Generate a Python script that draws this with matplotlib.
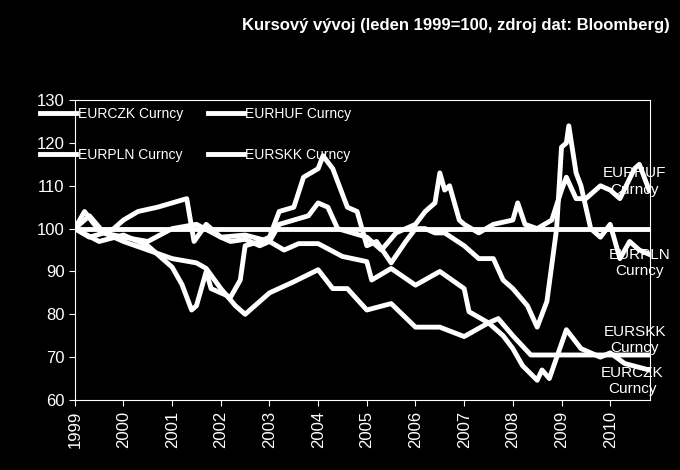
import matplotlib
matplotlib.use("Agg")
import matplotlib.pyplot as plt

plt.rcParams['font.family'] = ['Liberation Sans', 'DejaVu Sans']

czk_t = [1999, 1999.3, 1999.6, 2000, 2000.5, 2001, 2001.5, 2001.7, 2002, 2002.3, 2002.5, 2002.7, 2003, 2003.5, 2004, 2004.3, 2004.6, 2005, 2005.5, 2006, 2006.5, 2007, 2007.5, 2007.8, 2008, 2008.2, 2008.5, 2008.6, 2008.75, 2009.1, 2009.4, 2009.8, 2010, 2010.3, 2010.8]
czk_v = [100, 98, 99, 97, 95, 93, 92, 90.7, 86, 82, 80, 82, 85, 87.6, 90.4, 86, 86, 81, 82.5, 77, 77, 74.8, 78, 75, 72, 68, 64.6, 67, 65, 76.4, 72, 70, 71, 68.5, 67]

skk_t = [1999, 1999.3, 1999.6, 2000, 2000.5, 2001, 2001.5, 2002, 2002.5, 2003, 2003.3, 2003.6, 2004, 2004.5, 2005, 2005.1, 2005.5, 2006, 2006.5, 2007, 2007.1, 2007.5, 2007.7, 2008, 2008.37, 2010.8]
skk_v = [100, 103, 99, 98, 97, 100, 101, 98, 98.5, 97, 95, 96.5, 96.5, 93.5, 92.3, 88, 90.7, 86.8, 90, 86, 80.6, 78, 79, 75, 70.5, 70.5]

pln_t = [1999, 1999.5, 2000, 2000.5, 2001, 2001.2, 2001.4, 2001.5, 2001.7, 2001.8, 2002, 2002.2, 2002.4, 2002.5, 2002.8, 2003, 2003.2, 2003.5, 2003.7, 2004, 2004.1, 2004.3, 2004.6, 2004.8, 2005, 2005.2, 2005.5, 2005.8, 2006, 2006.2, 2006.4, 2006.6, 2007, 2007.3, 2007.6, 2007.8, 2008, 2008.3, 2008.5, 2008.7, 2008.9, 2009.0, 2009.1, 2009.15, 2009.3, 2009.4, 2009.6, 2009.8, 2010, 2010.2, 2010.4, 2010.6, 2010.8]
pln_v = [100, 97, 98.5, 96, 91, 87, 81, 82, 90, 86, 85, 84, 88, 96, 97, 98, 104, 105, 112, 114, 117, 114, 105, 104, 96, 97, 92, 97, 100, 100, 99, 99, 96, 93, 93, 88, 86, 82, 77, 83, 100, 119, 120, 124, 113, 110, 100, 98, 101, 93, 97, 95, 94]

huf_t = [1999, 1999.2, 1999.4, 1999.6, 1999.8, 2000, 2000.3, 2000.7, 2001.0, 2001.3, 2001.45, 2001.7, 2002, 2002.2, 2002.5, 2002.8, 2003, 2003.2, 2003.5, 2003.8, 2004, 2004.2, 2004.4, 2004.7, 2005, 2005.3, 2005.6, 2006, 2006.2, 2006.4, 2006.5, 2006.6, 2006.7, 2006.9, 2007, 2007.3, 2007.6, 2008, 2008.1, 2008.25, 2008.5, 2008.8, 2009.0, 2009.1, 2009.3, 2009.5, 2009.8, 2010, 2010.2, 2010.5, 2010.6, 2010.8]
huf_v = [100, 104, 101, 99, 100, 102, 104, 105, 106, 107, 97, 101, 98, 97, 97.5, 96, 97, 101, 102, 103, 106, 105, 100, 99, 98, 95, 99, 101, 104, 106, 113, 109, 110, 102, 101, 99, 101, 102, 106, 101, 100, 102, 109, 112, 107, 107, 110, 109, 107, 114, 115, 109]

years = list(range(1999, 2011))
yticks = list(range(60, 131, 10))

fig = plt.figure(figsize=(6.8, 4.7), dpi=100, facecolor='black')
ax = fig.add_axes([0.11, 0.149, 0.846, 0.638], facecolor='black')
lw = 3.5
ax.axhline(100, color='white', lw=lw)
l1, = ax.plot(czk_t, czk_v, color='white', lw=lw, label='EURCZK Curncy')
l2, = ax.plot(huf_t, huf_v, color='white', lw=lw, label='EURHUF Curncy')
l3, = ax.plot(pln_t, pln_v, color='white', lw=lw, label='EURPLN Curncy')
l4, = ax.plot(skk_t, skk_v, color='white', lw=lw, label='EURSKK Curncy')

ax.set_xlim(1999, 2010.82)
ax.set_ylim(60, 130)
ax.set_xticks(years)
ax.set_xticklabels([str(y) for y in years], rotation=90, color='white', fontsize=12)
ax.set_yticks(yticks)
ax.set_yticklabels([str(v) for v in yticks], color='white', fontsize=12)
for s in ax.spines.values():
    s.set_color('white')
ax.tick_params(colors='white', direction='out', length=4)

leg = ax.legend(handles=[l1, l3, l2, l4], ncol=2, loc='upper left', frameon=False,
                fontsize=10, handlelength=2.6, handletextpad=0.1, columnspacing=1.8,
                labelspacing=1.9, borderaxespad=0.0, bbox_to_anchor=(-0.07, 0.995))
for t in leg.get_texts():
    t.set_color('white')

ax.text(2010.5, 111, 'EURHUF\nCurncy', color='white', fontsize=11, ha='center', va='center')
ax.text(2010.6, 92, 'EURPLN\nCurncy', color='white', fontsize=11, ha='center', va='center')
ax.text(2010.5, 74, 'EURSKK\nCurncy', color='white', fontsize=11, ha='center', va='center')
ax.text(2010.45, 64.5, 'EURCZK\nCurncy', color='white', fontsize=11, ha='center', va='center')

fig.text(0.985, 0.945, 'Kursový vývoj (leden 1999=100, zdroj dat: Bloomberg)', color='white',
         fontsize=12, fontweight='bold', ha='right', va='center')

fig.savefig('out.png', dpi=100, facecolor='black')
